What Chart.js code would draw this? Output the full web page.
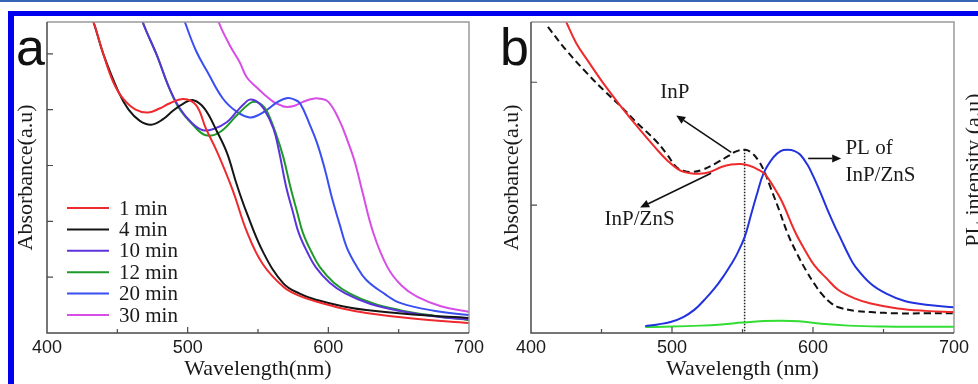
<!DOCTYPE html>
<html>
<head>
<meta charset="utf-8">
<script src="https://cdn.jsdelivr.net/npm/chart.js@4.4.0/dist/chart.umd.min.js"></script>
<style>
  html, body { margin: 0; padding: 0; background: #fff; }
  body { width: 978px; height: 384px; position: relative; overflow: hidden; }
  .panel { position: absolute; top: 0; width: 489px; height: 384px; }
  #panelA { left: 0; }
  #panelB { left: 489px; }
  .bar { position: absolute; z-index: 2; }
</style>
</head>
<body>
<div class="bar" style="left:0;top:0;width:978px;height:2px;background:#3464b4"></div>
<div class="bar" style="left:8px;top:11px;width:970px;height:5px;background:#0000f0"></div>
<div class="bar" style="left:8px;top:11px;width:6px;height:373px;background:#0000f0"></div>
<div class="panel" id="panelA"><canvas id="chartA" width="489" height="384"></canvas></div>
<div class="panel" id="panelB"><canvas id="chartB" width="489" height="384"></canvas></div>
<script>
// ---- panel a : absorbance vs growth time ----
var wl1 = [426, 433, 440, 447, 454, 463, 472, 480, 487, 497, 506, 513, 521, 532, 542, 553, 568, 580, 592, 610, 627, 660, 700];
var ab1 = [6.0, 5.57, 5.0, 4.50, 4.20, 4.00, 3.95, 4.02, 4.11, 4.19, 4.08, 3.66, 3.24, 2.56, 1.82, 1.25, 0.83, 0.66, 0.56, 0.44, 0.36, 0.26, 0.18];

var wl4 = [426, 433, 440, 451, 458, 466, 474, 482, 490, 497, 504, 512, 521, 528, 535, 542, 554, 568, 580, 592, 610, 627, 660, 700];
var ab4 = [6.0, 5.57, 5.0, 4.31, 4.00, 3.80, 3.73, 3.82, 3.99, 4.11, 4.17, 4.02, 3.60, 3.22, 2.65, 2.15, 1.43, 0.89, 0.70, 0.59, 0.48, 0.41, 0.33, 0.27];

var wl10 = [463, 468, 478, 487, 494, 503, 511, 519, 528, 535, 540, 544, 549, 554, 561, 565, 570, 575, 579, 585, 591, 601, 612, 630, 650, 675, 700];
var ab10 = [6.0, 5.57, 4.98, 4.38, 4.04, 3.76, 3.63, 3.66, 3.78, 3.97, 4.10, 4.18, 4.15, 4.02, 3.66, 3.25, 2.62, 2.15, 1.79, 1.45, 1.18, 0.90, 0.71, 0.52, 0.40, 0.30, 0.24];

var wl12 = [463, 468, 478, 487, 494, 504, 513, 523, 535, 544, 548, 552, 556, 563, 568, 573, 578, 582, 588, 594, 604, 615, 632, 651, 675, 700];
var ab12 = [6.0, 5.57, 4.98, 4.38, 4.02, 3.72, 3.54, 3.60, 3.90, 4.11, 4.14, 4.10, 3.99, 3.55, 3.15, 2.62, 2.15, 1.79, 1.45, 1.18, 0.90, 0.71, 0.53, 0.41, 0.31, 0.23];

var wl20 = [492, 498, 506, 514, 525, 535, 544, 550, 556, 564, 571, 576, 580, 587, 592, 597, 603, 608, 613, 620, 627, 640, 651, 675, 700];
var ab20 = [6.0, 5.57, 5.05, 4.68, 4.20, 3.96, 3.86, 3.90, 3.99, 4.14, 4.21, 4.18, 4.11, 3.72, 3.40, 2.98, 2.38, 1.95, 1.54, 1.20, 0.95, 0.70, 0.54, 0.40, 0.32];

var wl30 = [517, 522, 530, 537, 542, 549, 555, 561, 566, 570, 576, 582, 588, 593, 600, 608, 614, 619, 624, 632, 642, 652, 663, 680, 700];
var ab30 = [6.0, 5.57, 5.15, 4.85, 4.58, 4.40, 4.26, 4.14, 4.08, 4.05, 4.07, 4.14, 4.19, 4.20, 4.14, 3.80, 3.42, 3.05, 2.55, 1.79, 1.18, 0.85, 0.65, 0.48, 0.38];

var seriesA = [
  { label: '1 min',  x: wl1,  y: ab1,  color: '#ee2a2e' },
  { label: '4 min',  x: wl4,  y: ab4,  color: '#151515' },
  { label: '10 min', x: wl10, y: ab10, color: '#5b34dc' },
  { label: '12 min', x: wl12, y: ab12, color: '#1f9a2a' },
  { label: '20 min', x: wl20, y: ab20, color: '#3a4ff0' },
  { label: '30 min', x: wl30, y: ab30, color: '#d64ee6' }
];

// ---- panel b : InP vs InP/ZnS and PL ----
var wlInP = [412, 425, 440, 452, 464, 476, 488, 496, 503, 508, 514, 522, 531, 540, 546, 552, 557, 562, 566, 570, 576, 582, 588, 595, 601, 606, 612, 618, 630, 641, 660, 680, 700];
var abInP = [2.45, 2.26, 2.07, 1.93, 1.80, 1.66, 1.53, 1.42, 1.31, 1.28, 1.27, 1.29, 1.34, 1.40, 1.44, 1.45, 1.42, 1.35, 1.26, 1.14, 0.96, 0.77, 0.62, 0.47, 0.36, 0.28, 0.21, 0.17, 0.14, 0.13, 0.12, 0.12, 0.12];

var wlShell = [420, 425, 432, 440, 452, 464, 476, 488, 497, 506, 513, 519, 527, 535, 542, 549, 555, 561, 566, 572, 578, 587, 594, 601, 610, 618, 630, 641, 660, 680, 700];
var abShell = [2.62, 2.49, 2.32, 2.18, 1.98, 1.80, 1.63, 1.47, 1.36, 1.28, 1.26, 1.255, 1.27, 1.31, 1.33, 1.335, 1.32, 1.29, 1.25, 1.15, 1.03, 0.79, 0.64, 0.51, 0.40, 0.31, 0.24, 0.20, 0.16, 0.14, 0.13];

var wlPL = [481, 490, 499, 508, 516, 523, 530, 537, 542, 546, 551.5, 556, 560, 565, 572, 577, 582, 587, 591, 596, 600, 605, 610, 615, 620, 625, 630, 641, 652, 665, 680, 700];
var plShell = [0.016, 0.03, 0.05, 0.09, 0.15, 0.23, 0.32, 0.43, 0.52, 0.60, 0.74, 0.92, 1.08, 1.26, 1.39, 1.44, 1.45, 1.44, 1.41, 1.33, 1.24, 1.11, 0.97, 0.84, 0.72, 0.60, 0.50, 0.36, 0.28, 0.22, 0.19, 0.17];

var wlPLcore = [481, 500, 520, 535, 550, 565, 578, 590, 606, 625, 650, 675, 700];
var plCore = [0.008, 0.012, 0.02, 0.03, 0.045, 0.057, 0.06, 0.055, 0.035, 0.02, 0.012, 0.01, 0.01];

var wlMarker = [551.5, 551.5];
var yMarker = [1.45, -0.04];

// annotation labels and arrows for panel b (data coordinates)
var notesB = [
  { text: 'InP', x: 502, y: 1.92, align: 'center' },
  { text: 'InP/ZnS', x: 477, y: 0.88, align: 'center' },
  { text: 'PL of', x: 623, y: 1.46, align: 'left' },
  { text: 'InP/ZnS', x: 623, y: 1.24, align: 'left' }
];
var arrowsB = [
  { x1: 542, y1: 1.43, x2: 503, y2: 1.73 },
  { x1: 527.7, y1: 1.26, x2: 477.4, y2: 0.98 },
  { x1: 596.6, y1: 1.38, x2: 620, y2: 1.38 }
];

var SERIF = '"Liberation Serif", "Times New Roman", serif';
var SANS = '"Liberation Sans", Arial, sans-serif';

function points(xs, ys) {
  return xs.map(function(x, i) { return { x: x, y: ys[i] }; });
}

function lineSet(label, xs, ys, color, extra) {
  var ds = {
    label: label,
    data: points(xs, ys),
    borderColor: color,
    backgroundColor: color,
    borderWidth: 2,
    pointRadius: 0,
    tension: 0.4,
    fill: false
  };
  for (var k in extra) ds[k] = extra[k];
  return ds;
}

function buildOptions(yMin, yMax, yWidth, yTitlePad, xTitle) {
  return {
    responsive: false,
    animation: false,
    events: [],
    layout: { padding: { top: 22, right: 0, left: 0, bottom: 0 } },
    plugins: { legend: { display: false }, tooltip: { enabled: false } },
    scales: {
      x: {
        type: 'linear', min: 400, max: 700,
        grid: { display: false, drawTicks: false },
        border: { display: false },
        ticks: { stepSize: 100, color: '#1a1a1a', padding: 4, maxRotation: 0,
                 font: { family: SANS, size: 18 } },
        title: { display: true, text: xTitle, color: '#1a1a1a',
                 font: { family: SERIF, size: 22 }, padding: { top: 0, bottom: 2 } },
        afterFit: function(s) { s.height = 51; }
      },
      y: {
        type: 'linear', min: yMin, max: yMax,
        grid: { display: false, drawTicks: false },
        border: { display: false },
        ticks: { display: false, stepSize: 1 },
        title: { display: true, text: 'Absorbance(a.u)', color: '#1a1a1a',
                 font: { family: SERIF, size: 22 }, padding: { top: yTitlePad, bottom: 0 } },
        afterFit: function(s) { s.width = yWidth; }
      }
    }
  };
}

// frame, inward ticks and panel letter
function framePlugin(letter) {
  return {
    id: 'frame' + letter,
    afterDatasetsDraw: function(chart) {
      var ctx = chart.ctx, a = chart.chartArea;
      var xs = chart.scales.x, ys = chart.scales.y;
      ctx.save();
      ctx.lineWidth = 1.5;
      ctx.strokeStyle = '#9a9a9a';
      ctx.beginPath();
      ctx.moveTo(a.left, a.top); ctx.lineTo(a.right, a.top); ctx.lineTo(a.right, a.bottom);
      ctx.stroke();
      ctx.strokeStyle = '#4a4a4a';
      ctx.beginPath();
      ctx.moveTo(a.left, a.top); ctx.lineTo(a.left, a.bottom); ctx.lineTo(a.right, a.bottom);
      ctx.stroke();
      ctx.lineWidth = 1.2;
      ctx.beginPath();
      for (var v = 450; v < 700; v += 50) {
        var px = xs.getPixelForValue(v);
        var len = (v % 100 === 0) ? 6 : 4;
        ctx.moveTo(px, a.bottom); ctx.lineTo(px, a.bottom - len);
      }
      ys.ticks.forEach(function(t) {
        if (Math.abs(t.value - Math.round(t.value)) > 1e-6) return;
        var py = ys.getPixelForValue(t.value);
        if (py > a.bottom - 3 || py < a.top + 3) return;
        ctx.moveTo(a.left, py); ctx.lineTo(a.left + 6, py);
      });
      ctx.stroke();
      ctx.fillStyle = '#111';
      ctx.font = '52px ' + SANS;
      ctx.textBaseline = 'alphabetic';
      ctx.textAlign = 'left';
      ctx.fillText(letter, letter === 'a' ? 16 : 11, 65);
      ctx.restore();
    }
  };
}

var legendPlugin = {
  id: 'legendA',
  afterDatasetsDraw: function(chart) {
    var ctx = chart.ctx, a = chart.chartArea;
    ctx.save();
    ctx.font = '21px ' + SERIF;
    ctx.textBaseline = 'middle';
    ctx.textAlign = 'left';
    chart.data.datasets.forEach(function(ds, i) {
      var y = a.top + 186 + i * 21.4;
      ctx.strokeStyle = ds.borderColor;
      ctx.lineWidth = 2;
      ctx.beginPath();
      ctx.moveTo(a.left + 20, y); ctx.lineTo(a.left + 62, y);
      ctx.stroke();
      ctx.fillStyle = '#1a1a1a';
      ctx.fillText(ds.label, a.left + 72, y + 1);
    });
    ctx.restore();
  }
};

var notesPlugin = {
  id: 'notesB',
  afterDatasetsDraw: function(chart) {
    var ctx = chart.ctx, xs = chart.scales.x, ys = chart.scales.y;
    ctx.save();
    ctx.fillStyle = '#1a1a1a';
    ctx.strokeStyle = '#111';
    ctx.lineWidth = 1.6;
    ctx.font = '21px ' + SERIF;
    ctx.textBaseline = 'middle';
    notesB.forEach(function(n) {
      ctx.textAlign = n.align;
      ctx.fillText(n.text, xs.getPixelForValue(n.x), ys.getPixelForValue(n.y));
    });
    arrowsB.forEach(function(r) {
      var x1 = xs.getPixelForValue(r.x1), y1 = ys.getPixelForValue(r.y1);
      var x2 = xs.getPixelForValue(r.x2), y2 = ys.getPixelForValue(r.y2);
      var ang = Math.atan2(y2 - y1, x2 - x1), hl = 9, hw = 4;
      var bx = x2 - hl * Math.cos(ang), by = y2 - hl * Math.sin(ang);
      ctx.beginPath();
      ctx.moveTo(x1, y1); ctx.lineTo(bx, by);
      ctx.stroke();
      ctx.beginPath();
      ctx.moveTo(x2, y2);
      ctx.lineTo(bx + hw * Math.sin(ang), by - hw * Math.cos(ang));
      ctx.lineTo(bx - hw * Math.sin(ang), by + hw * Math.cos(ang));
      ctx.closePath();
      ctx.fillStyle = '#111';
      ctx.fill();
    });
    // right axis title, cut by the page edge
    ctx.fillStyle = '#1a1a1a';
    ctx.font = '22px ' + SERIF;
    ctx.translate(491, 170);
    ctx.rotate(-Math.PI / 2);
    ctx.textAlign = 'center';
    ctx.textBaseline = 'alphabetic';
    ctx.fillText('PL intensity (a.u)', 0, 0);
    ctx.restore();
  }
};

var optsA = buildOptions(0, 5.57, 47, 13.5, 'Wavelength(nm)');
optsA.layout.padding.right = 20;
new Chart(document.getElementById('chartA').getContext('2d'), {
  type: 'line',
  data: {
    datasets: seriesA.map(function(s) { return lineSet(s.label, s.x, s.y, s.color, {}); })
  },
  options: optsA,
  plugins: [framePlugin('a'), legendPlugin]
});

var optsB = buildOptions(-0.04, 2.49, 42, 10, 'Wavelength (nm)');
optsB.layout.padding.right = 24;
new Chart(document.getElementById('chartB').getContext('2d'), {
  type: 'line',
  data: {
    datasets: [
      lineSet('InP/ZnS', wlShell, abShell, '#ee2a2a', {}),
      lineSet('InP', wlInP, abInP, '#111111', { borderDash: [7, 4], borderWidth: 2 }),
      lineSet('PL of InP/ZnS', wlPL, plShell, '#2233dd', {}),
      lineSet('PL of InP', wlPLcore, plCore, '#33dd33', {}),
      lineSet('marker', wlMarker, yMarker, '#222222', { borderDash: [1.5, 1.5], borderWidth: 1.5, tension: 0 })
    ]
  },
  options: optsB,
  plugins: [framePlugin('b'), notesPlugin]
});
</script>
</body>
</html>
